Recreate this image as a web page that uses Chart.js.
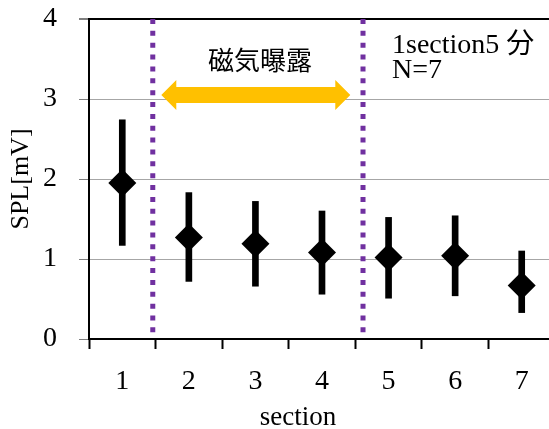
<!DOCTYPE html>
<html>
<head>
<meta charset="utf-8">
<script src="https://cdn.jsdelivr.net/npm/chart.js@4.4.0/dist/chart.umd.min.js"></script>
<style>
  html, body { margin: 0; padding: 0; background: #ffffff; overflow: hidden; }
  #frame { width: 549px; height: 429px; overflow: hidden; }
  #wrap { width: 555px; height: 429px; position: relative; }
</style>
</head>
<body>
<div id="frame"><div id="wrap"><canvas id="chart"></canvas></div></div>
<script>
// Sections and mean SPL with error-bar ends
const sections = ['1', '2', '3', '4', '5', '6', '7'];
const meanSPL  = [1.95, 1.27, 1.19, 1.08, 1.02, 1.04, 0.67];
const upperSPL = [2.74, 1.83, 1.72, 1.60, 1.52, 1.54, 1.10];
const lowerSPL = [1.17, 0.72, 0.66, 0.56, 0.51, 0.54, 0.33];
const yTicks   = [0, 1, 2, 3, 4];

// Exposure period: dotted borders and arrow span, in section-index units
const exposureBorders = [0.458, 3.616];
const arrowSpan = [0.586, 3.425];
const arrowLevel = 3.05;

const serif = '"Liberation Serif", "Times New Roman", "Noto Sans CJK JP", serif';
const cjk = '"Noto Sans CJK JP", "Noto Sans CJK SC", sans-serif';

const annotations = {
  id: 'annotations',
  afterDatasetsDraw(chart) {
    const { ctx, chartArea, scales: { x, y } } = chart;
    ctx.save();

    // dotted purple borders of the exposure period
    ctx.strokeStyle = '#7030A0';
    ctx.lineWidth = 5;
    ctx.setLineDash([5, 6.86]);
    exposureBorders.forEach(v => {
      const px = x.getPixelForValue(v);
      ctx.beginPath();
      ctx.moveTo(px, chartArea.top);
      ctx.lineTo(px, chartArea.bottom - 6);
      ctx.stroke();
    });
    ctx.setLineDash([]);

    // double-headed arrow
    const x0 = x.getPixelForValue(arrowSpan[0]);
    const x1 = x.getPixelForValue(arrowSpan[1]);
    const ay = y.getPixelForValue(arrowLevel);
    const shaft = 8, head = 15, headLen = 15;
    ctx.fillStyle = '#FFC000';
    ctx.beginPath();
    ctx.moveTo(x0, ay);
    ctx.lineTo(x0 + headLen, ay - head);
    ctx.lineTo(x0 + headLen, ay - shaft);
    ctx.lineTo(x1 - headLen, ay - shaft);
    ctx.lineTo(x1 - headLen, ay - head);
    ctx.lineTo(x1, ay);
    ctx.lineTo(x1 - headLen, ay + head);
    ctx.lineTo(x1 - headLen, ay + shaft);
    ctx.lineTo(x0 + headLen, ay + shaft);
    ctx.lineTo(x0 + headLen, ay + head);
    ctx.closePath();
    ctx.fill();

    // labels
    ctx.fillStyle = '#000000';
    ctx.textBaseline = 'alphabetic';
    ctx.textAlign = 'center';
    ctx.font = '26px ' + cjk;
    ctx.fillText('磁気曝露', 260, 70);

    ctx.textAlign = 'left';
    ctx.font = '28px ' + serif;
    ctx.fillText('1section5 分', 392, 53);
    ctx.fillText('N=7', 392, 78);

    ctx.textAlign = 'center';
    ctx.font = '27px ' + serif;
    ctx.fillText('section', 298, 425);
    ctx.restore();
  }
};

new Chart(document.getElementById('chart'), {
  type: 'bar',
  data: {
    labels: sections,
    datasets: [
      {
        type: 'line',
        label: 'mean',
        data: meanSPL,
        showLine: false,
        pointStyle: 'rectRot',
        pointRadius: 14,
        pointBorderWidth: 0,
        pointBackgroundColor: '#000000',
        pointBorderColor: '#000000',
        order: 0
      },
      {
        label: 'range',
        data: lowerSPL.map((lo, i) => [lo, upperSPL[i]]),
        backgroundColor: '#000000',
        borderWidth: 0,
        barThickness: 6,
        order: 1
      }
    ]
  },
  options: {
    responsive: true,
    maintainAspectRatio: false,
    animation: false,
    devicePixelRatio: 1,
    layout: { autoPadding: false, padding: { top: 19, right: 0, left: 0, bottom: 0 } },
    plugins: { legend: { display: false }, tooltip: { enabled: false } },
    scales: {
      x: {
        offset: true,
        grid: {
          offset: true,
          drawOnChartArea: false,
          tickLength: 10,
          tickColor: '#000000',
          tickWidth: 2
        },
        border: { color: '#000000', width: 2 },
        ticks: {
          padding: 16,
          color: '#000000',
          font: { family: serif, size: 28 }
        },
        afterFit(scale) {
          scale.height = 90;
          scale.paddingLeft = 0;
          scale.paddingRight = 0;
        }
      },
      y: {
        min: 0,
        max: 4,
        afterBuildTicks(scale) { scale.ticks = yTicks.map(v => ({ value: v })); },
        grid: {
          color: c => (c.tick && c.tick.value === 4 ? '#000000' : '#A6A6A6'),
          lineWidth: c => (c.tick && c.tick.value === 4 ? 2 : 1),
          tickLength: 10,
          tickColor: '#7F7F7F'
        },
        border: { color: '#000000', width: 2 },
        ticks: {
          padding: 22,
          color: '#000000',
          font: { family: serif, size: 28 }
        },
        title: {
          display: true,
          text: 'SPL[mV]',
          color: '#000000',
          font: { family: serif, size: 26 },
          padding: { top: 6, bottom: 0 }
        },
        afterFit(scale) {
          scale.width = 89;
          scale.paddingTop = 0;
          scale.paddingBottom = 0;
        }
      }
    }
  },
  plugins: [annotations]
});
</script>
</body>
</html>
